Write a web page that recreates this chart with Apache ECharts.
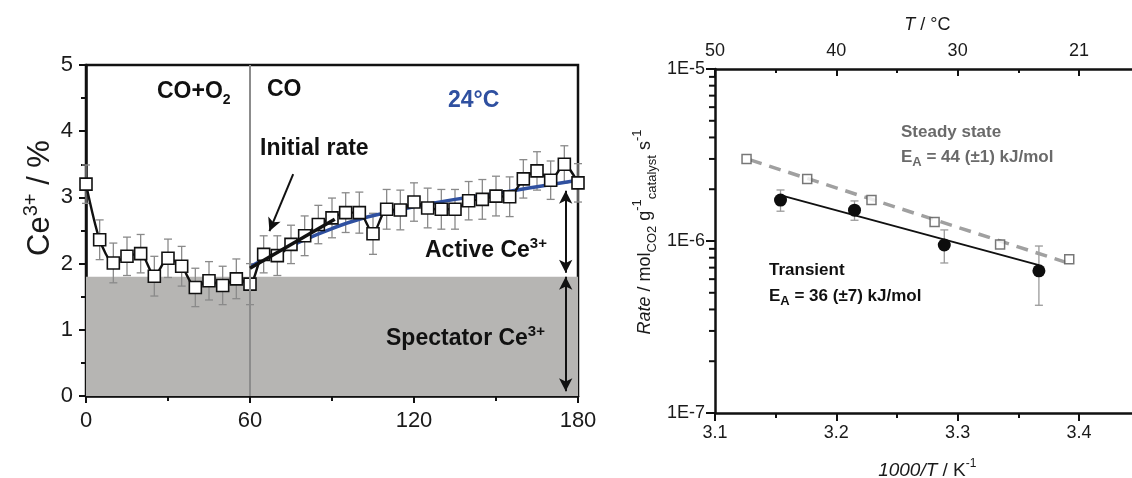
<!DOCTYPE html>
<html><head><meta charset="utf-8">
<script src="https://cdn.jsdelivr.net/npm/echarts@6/dist/echarts.min.js"></script>
<style>html,body{margin:0;padding:0;background:#fff}#c{width:1132px;height:478px}</style>
</head><body><div id="c"></div>
<script>
// ---------- Left panel data ----------
const timeMin = [0,5,10,15,20,25,30,35,40,45,50,55,60,65,70,75,80,85,90,95,100,105,110,115,120,125,130,135,140,145,150,155,160,165,170,175,180];
const ce3Values = [3.20,2.36,2.01,2.11,2.15,1.81,2.08,1.96,1.64,1.74,1.67,1.77,1.69,2.14,2.12,2.29,2.42,2.59,2.69,2.77,2.77,2.45,2.82,2.81,2.93,2.84,2.82,2.82,2.95,2.97,3.02,3.01,3.28,3.40,3.26,3.50,3.22];
const ce3Errors = [0.29,0.30,0.30,0.29,0.29,0.30,0.29,0.30,0.29,0.29,0.29,0.30,0.31,0.28,0.30,0.29,0.30,0.29,0.30,0.30,0.31,0.31,0.30,0.30,0.29,0.30,0.30,0.30,0.29,0.30,0.30,0.30,0.29,0.29,0.29,0.28,0.29];
const fitTime = [60,65,70,80,90,100,110,120,135,150,165,180];
const fitValues = [1.95,2.06,2.16,2.36,2.53,2.67,2.77,2.86,2.97,3.06,3.16,3.26];
const initialRateTime = [60,91];
const initialRateValues = [1.93,2.67];
const spectatorLevel = 1.8;
const gasSwitchTime = 60;
const initialArrowTime = [75.8,67.1];
const initialArrowValues = [3.35,2.49];
const activeArrowTime = 175.5;
const activeArrowValues = [3.10,1.86];
const spectatorArrowValues = [1.80,0.07];

// ---------- Right panel data ----------
const steadyX = [3.126,3.176,3.229,3.281,3.335,3.392];
const steadyRate = [3.0e-6,2.29e-6,1.73e-6,1.29e-6,0.953e-6,0.783e-6];
const transientX = [3.154,3.215,3.289,3.367];
const transientRate = [1.73e-6,1.51e-6,0.948e-6,0.671e-6];
const transientLow = [1.49e-6,1.32e-6,0.745e-6,0.423e-6];
const transientHigh = [1.98e-6,1.71e-6,1.16e-6,0.935e-6];
const steadyFitX = [3.129,3.392];
const steadyFitRate = [2.96e-6,0.741e-6];
const transientFitX = [3.156,3.367];
const transientFitRate = [1.83e-6,0.724e-6];
const topTickLabels = ['50','40','30','21'];
const logMinorTicks = [2e-7,3e-7,4e-7,5e-7,6e-7,7e-7,8e-7,9e-7,2e-6,3e-6,4e-6,5e-6,6e-6,7e-6,8e-6,9e-6];

const FONT = '"Liberation Sans", Arial, Helvetica, sans-serif';
const AX = '#111';

function errRender(capW, color, lw){
  return function(params, api){
    const x = api.value(0), lo = api.value(1), hi = api.value(2);
    const p1 = api.coord([x, hi]), p2 = api.coord([x, lo]);
    const h = capW/2;
    const st = {stroke: color, lineWidth: lw};
    return {type:'group', children:[
      {type:'line', shape:{x1:p1[0],y1:p1[1],x2:p2[0],y2:p2[1]}, style:st},
      {type:'line', shape:{x1:p1[0]-h,y1:p1[1],x2:p1[0]+h,y2:p1[1]}, style:st},
      {type:'line', shape:{x1:p2[0]-h,y1:p2[1],x2:p2[0]+h,y2:p2[1]}, style:st}
    ]};
  };
}

const leftData = timeMin.map((t,i)=>[t, ce3Values[i]]);
const leftErr = timeMin.map((t,i)=>[t, ce3Values[i]-ce3Errors[i], ce3Values[i]+ce3Errors[i]]);
const fitData = fitTime.map((t,i)=>[t, fitValues[i]]);
const initData = initialRateTime.map((t,i)=>[t, initialRateValues[i]]);

const steadyData = steadyX.map((x,i)=>[x, steadyRate[i]]);
const transData = transientX.map((x,i)=>[x, transientRate[i]]);
const transErr = transientX.map((x,i)=>[x, transientLow[i], transientHigh[i]]);
const steadyFit = steadyFitX.map((x,i)=>[x, steadyFitRate[i]]);
const transFit = transientFitX.map((x,i)=>[x, transientFitRate[i]]);

const chart = echarts.init(document.getElementById('c'), null, {renderer:'canvas'});

const lblL = {fontFamily: FONT, fontSize: 22, color: '#1a1a1a'};
const lblR = {fontFamily: FONT, fontSize: 18, color: '#1a1a1a'};
const TXT = '#1a1a1a';

const option = {
  animation: false,
  backgroundColor: '#fff',
  grid: [
    {left: 86, top: 65, width: 492, height: 331, show: true, borderColor: AX, borderWidth: 2.5, backgroundColor: 'transparent', containLabel: false, outerBoundsMode: 'none'},
    {left: 715, top: 69, width: 424.6, height: 344, containLabel: false, outerBoundsMode: 'none'}
  ],
  xAxis: [
    {gridIndex: 0, type: 'value', min: 0, max: 180, interval: 60,
     axisLine: {show: true, lineStyle: {color: AX, width: 2.5}},
     axisTick: {show: true, inside: false, length: 7, lineStyle: {color: AX, width: 2}},
     minorTick: {show: true, splitNumber: 2, length: 5, lineStyle: {color: AX, width: 2}},
     axisLabel: Object.assign({margin: 14}, lblL),
     splitLine: {show: false}},
    {gridIndex: 1, type: 'value', position: 'bottom', min: 3.1, max: 3.45, interval: 0.1,
     axisLine: {show: true, onZero: false, lineStyle: {color: AX, width: 2.5}},
     axisTick: {show: true, inside: false, length: 8, lineStyle: {color: AX, width: 2}},
     minorTick: {show: true, splitNumber: 2, length: 5, lineStyle: {color: AX, width: 2}},
     axisLabel: Object.assign({margin: 11, showMaxLabel: false, formatter: v => v.toFixed(1)}, lblR),
     splitLine: {show: false},
     name: '{i|1000/T}{m| / K}{s|-1}', nameLocation: 'middle', nameGap: 45,
     nameTextStyle: {fontFamily: FONT, fontSize: 19, color: TXT,
       rich: {i: {fontFamily: FONT, fontSize: 19, fontStyle: 'italic', color: TXT, lineHeight: 26},
              m: {fontFamily: FONT, fontSize: 19, color: TXT, lineHeight: 26},
              s: {fontFamily: FONT, fontSize: 12, color: TXT, verticalAlign: 'top', lineHeight: 14}}}},
    {gridIndex: 1, type: 'value', position: 'top', min: 3.1, max: 3.45, interval: 0.1,
     axisLine: {show: true, onZero: false, lineStyle: {color: AX, width: 2.5}},
     axisTick: {show: true, inside: true, length: 7, lineStyle: {color: AX, width: 2}},
     minorTick: {show: true, splitNumber: 2, length: 4, lineStyle: {color: AX, width: 2}},
     axisLabel: Object.assign({margin: 9, showMaxLabel: false,
       formatter: v => topTickLabels[Math.round((v - 3.1) / 0.1)] || ''}, lblR),
     splitLine: {show: false},
     name: '{i|T}{m| / °C}', nameLocation: 'middle', nameGap: 35,
     nameTextStyle: {fontFamily: FONT, fontSize: 18, color: TXT,
       rich: {i: {fontFamily: FONT, fontSize: 18, fontStyle: 'italic', color: TXT},
              m: {fontFamily: FONT, fontSize: 18, color: TXT}}}}
  ],
  yAxis: [
    {gridIndex: 0, type: 'value', min: 0, max: 5, interval: 1,
     axisLine: {show: true, lineStyle: {color: AX, width: 2.5}},
     axisTick: {show: true, inside: false, length: 7, lineStyle: {color: AX, width: 2}},
     minorTick: {show: true, splitNumber: 2, length: 5, lineStyle: {color: AX, width: 2}},
     axisLabel: Object.assign({margin: 13}, lblL),
     splitLine: {show: false}},
    {gridIndex: 1, type: 'log', logBase: 10, min: 1e-7, max: 1e-5,
     axisLine: {show: true, onZero: false, lineStyle: {color: AX, width: 2.5}},
     axisTick: {show: true, inside: false, length: 9, lineStyle: {color: AX, width: 2}},
     minorTick: {show: false},
     axisLabel: Object.assign({margin: 10, formatter: v => '1E' + Math.round(Math.log10(v))}, lblR),
     splitLine: {show: false}}
  ],
  series: [
    {type: 'line', xAxisIndex: 0, yAxisIndex: 0, data: [], z: 0, silent: true,
     markArea: {silent: true, itemStyle: {color: '#b6b5b3'},
       data: [[{yAxis: 0}, {yAxis: spectatorLevel}]]}},
    {type: 'custom', xAxisIndex: 0, yAxisIndex: 0, z: 2, silent: true,
     renderItem: errRender(8, '#8a8a8a', 1.3), encode: {x: 0, y: [1, 2]}, data: leftErr,
     markLine: {silent: true, symbol: ['none','none'], label: {show: false},
       lineStyle: {color: '#8c8c8c', width: 2, type: 'solid'},
       data: [{xAxis: gasSwitchTime}]}},
    {type: 'line', xAxisIndex: 0, yAxisIndex: 0, z: 3, data: fitData, smooth: 0.5,
     showSymbol: false, symbol: 'none', lineStyle: {color: '#2f50a0', width: 3.5}},
    {type: 'line', xAxisIndex: 0, yAxisIndex: 0, z: 4, data: leftData, smooth: 0.25,
     symbol: 'rect', symbolSize: 12, showAllSymbol: true,
     lineStyle: {color: '#111', width: 2.4},
     itemStyle: {color: '#fff', borderColor: '#111', borderWidth: 1.6}},
    {type: 'line', xAxisIndex: 0, yAxisIndex: 0, z: 5, data: initData,
     symbol: 'none', lineStyle: {color: '#111', width: 3.5},
     markLine: {silent: true, symbol: ['none','arrow'], symbolSize: [10, 13], label: {show: false},
       lineStyle: {color: '#111', width: 2, type: 'solid'},
       data: [
         [{coord: [initialArrowTime[0], initialArrowValues[0]], symbol: 'none'},
          {coord: [initialArrowTime[1], initialArrowValues[1]], symbol: 'arrow'}],
         [{coord: [activeArrowTime, activeArrowValues[0]], symbol: 'arrow'},
          {coord: [activeArrowTime, activeArrowValues[1]], symbol: 'arrow'}],
         [{coord: [activeArrowTime, spectatorArrowValues[0]], symbol: 'arrow'},
          {coord: [activeArrowTime, spectatorArrowValues[1]], symbol: 'arrow'}]
       ]}},
    // ---------- right panel ----------
    {type: 'custom', xAxisIndex: 1, yAxisIndex: 1, z: 2, silent: true,
     renderItem: errRender(8, '#9a9a9a', 1.3), encode: {x: 0, y: [1, 2]}, data: transErr},
    {type: 'custom', xAxisIndex: 1, yAxisIndex: 1, z: 6, silent: true, clip: false,
     renderItem: function(params, api){
       const p = api.coord([3.1, api.value(1)]);
       return {type: 'line', shape: {x1: p[0]-6, y1: p[1], x2: p[0], y2: p[1]}, style: {stroke: AX, lineWidth: 2}};
     }, encode: {x: 0, y: 1}, data: logMinorTicks.map(v => [3.1, v])},
    {type: 'line', xAxisIndex: 1, yAxisIndex: 1, z: 3, data: steadyFit, symbol: 'none',
     lineStyle: {color: '#a0a0a0', width: 3.5, type: [12, 8]}},
    {type: 'line', xAxisIndex: 1, yAxisIndex: 1, z: 3, data: transFit, symbol: 'none',
     lineStyle: {color: '#111', width: 2}},
    {type: 'scatter', xAxisIndex: 1, yAxisIndex: 1, z: 4, data: steadyData,
     symbol: 'rect', symbolSize: 9,
     itemStyle: {color: '#fff', borderColor: '#555', borderWidth: 1.5}},
    {type: 'scatter', xAxisIndex: 1, yAxisIndex: 1, z: 4, data: transData,
     symbol: 'circle', symbolSize: 13, itemStyle: {color: '#0d0d0d', opacity: 1}}
  ],
  graphic: [
    {type: 'text', x: 40, y: 198, rotation: Math.PI/2, z: 10,
     style: {text: '{m|Ce}{s|3+}{m| / %}', align: 'center', verticalAlign: 'middle',
       rich: {m: {fontFamily: FONT, fontSize: 31, fill: TXT, lineHeight: 38},
              s: {fontFamily: FONT, fontSize: 20, fill: TXT, verticalAlign: 'top', lineHeight: 22}}}},
    {type: 'text', x: 157, y: 92, z: 10,
     style: {text: '{b|CO+O}{s|2}', align: 'left', verticalAlign: 'middle',
       rich: {b: {fontFamily: FONT, fontSize: 23, fontWeight: 'bold', fill: '#111', lineHeight: 30},
              s: {fontFamily: FONT, fontSize: 14, fontWeight: 'bold', fill: '#111', verticalAlign: 'bottom', lineHeight: 16}}}},
    {type: 'text', x: 267, y: 90, z: 10,
     style: {text: 'CO', font: 'bold 23px ' + FONT, fill: '#111', align: 'left', verticalAlign: 'middle'}},
    {type: 'text', x: 448, y: 101, z: 10,
     style: {text: '24°C', font: 'bold 23px ' + FONT, fill: '#2f50a0', align: 'left', verticalAlign: 'middle'}},
    {type: 'text', x: 260, y: 149, z: 10,
     style: {text: 'Initial rate', font: 'bold 23px ' + FONT, fill: '#111', align: 'left', verticalAlign: 'middle'}},
    {type: 'text', x: 425, y: 251, z: 10,
     style: {text: '{b|Active Ce}{s|3+}', align: 'left', verticalAlign: 'middle',
       rich: {b: {fontFamily: FONT, fontSize: 23, fontWeight: 'bold', fill: '#111', lineHeight: 30},
              s: {fontFamily: FONT, fontSize: 15, fontWeight: 'bold', fill: '#111', verticalAlign: 'top', lineHeight: 16}}}},
    {type: 'text', x: 386, y: 339, z: 10,
     style: {text: '{b|Spectator Ce}{s|3+}', align: 'left', verticalAlign: 'middle',
       rich: {b: {fontFamily: FONT, fontSize: 23, fontWeight: 'bold', fill: '#111', lineHeight: 30},
              s: {fontFamily: FONT, fontSize: 15, fontWeight: 'bold', fill: '#111', verticalAlign: 'top', lineHeight: 16}}}},
    {type: 'text', x: 645, y: 232, rotation: Math.PI/2, z: 10,
     style: {text: '{i|Rate}{m| / mol}{d|CO2}{m| g}{u|-1}{d|catalyst}{m| s}{u|-1}', align: 'center', verticalAlign: 'middle',
       rich: {m: {fontFamily: FONT, fontSize: 18, fill: TXT, lineHeight: 28},
              i: {fontFamily: FONT, fontSize: 18, fontStyle: 'italic', fill: TXT, lineHeight: 28},
              d: {fontFamily: FONT, fontSize: 13, fill: TXT, verticalAlign: 'bottom', lineHeight: 14},
              u: {fontFamily: FONT, fontSize: 13, fill: TXT, verticalAlign: 'top', lineHeight: 14}}}},
    {type: 'text', x: 901, y: 132, z: 10,
     style: {text: 'Steady state', font: 'bold 17px ' + FONT, fill: '#6a6a6a', align: 'left', verticalAlign: 'middle'}},
    {type: 'text', x: 901, y: 157, z: 10,
     style: {text: '{b|E}{s|A}{b| = 44 (±1) kJ/mol}', align: 'left', verticalAlign: 'middle',
       rich: {b: {fontFamily: FONT, fontSize: 17, fontWeight: 'bold', fill: '#6a6a6a', lineHeight: 24},
              s: {fontFamily: FONT, fontSize: 13, fontWeight: 'bold', fill: '#6a6a6a', verticalAlign: 'bottom', lineHeight: 14}}}},
    {type: 'text', x: 769, y: 270, z: 10,
     style: {text: 'Transient', font: 'bold 17px ' + FONT, fill: '#111', align: 'left', verticalAlign: 'middle'}},
    {type: 'text', x: 769, y: 296, z: 10,
     style: {text: '{b|E}{s|A}{b| = 36 (±7) kJ/mol}', align: 'left', verticalAlign: 'middle',
       rich: {b: {fontFamily: FONT, fontSize: 17, fontWeight: 'bold', fill: '#111', lineHeight: 24},
              s: {fontFamily: FONT, fontSize: 13, fontWeight: 'bold', fill: '#111', verticalAlign: 'bottom', lineHeight: 14}}}}
  ]
};
chart.setOption(option);
</script>
</body></html>
